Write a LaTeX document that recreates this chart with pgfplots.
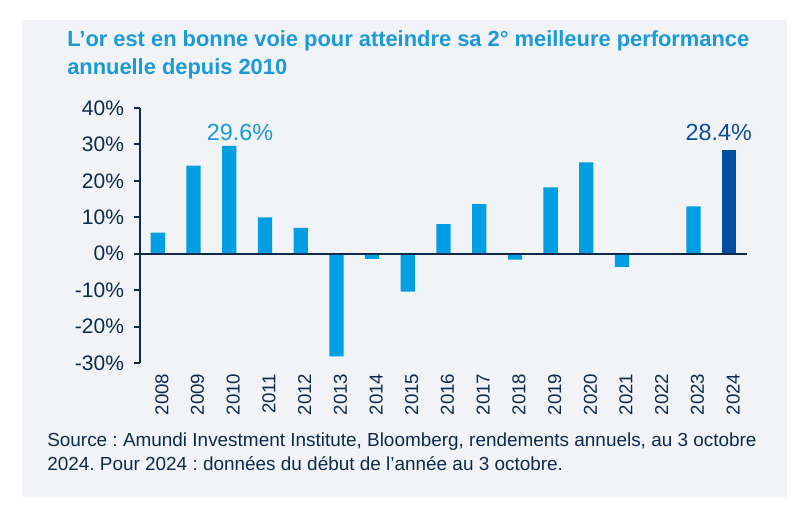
\documentclass[border=0pt]{standalone}
\usepackage{pgfplots}
\pgfplotsset{compat=1.18}
\usepackage{fontspec}
\setmainfont{Liberation Sans}
\frenchspacing
\definecolor{bg}{HTML}{F1F3F6}
\definecolor{lightbar}{HTML}{009EE2}
\definecolor{darkbar}{HTML}{004F9E}
\definecolor{titleblue}{HTML}{1A9AD8}
\definecolor{navy}{HTML}{0B2A4E}
\definecolor{lab2}{HTML}{0F4C9A}
\newcommand{\PX}[2]{({#1*0.75pt},{#2*0.75pt})}
\begin{document}
\begin{tikzpicture}
\fill[white] \PX{0}{0} rectangle \PX{800}{514};
\fill[bg] \PX{22}{17} rectangle \PX{787}{494};
\node[anchor=base west, inner sep=0, text=titleblue, font=\fontsize{16.4}{19}\selectfont\bfseries] at \PX{67}{467} {L’or est en bonne voie pour atteindre sa 2° meilleure performance};
\node[anchor=base west, inner sep=0, text=titleblue, font=\fontsize{16.4}{19}\selectfont\bfseries] at \PX{67}{439} {annuelle depuis 2010};
\begin{axis}[
  at={(105pt,113.25pt)}, anchor=south west,
  scale only axis, width=455.25pt, height=191.25pt,
  xmin=-0.5, xmax=16.5, ymin=-30, ymax=40,
  ybar, bar width=10.7pt, bar shift=0pt,
  axis y line*=left, axis x line*=bottom,
  x axis line style={draw=none},
  y axis line style={navy, line width=1.5pt, -},
  xtick={0,...,16},
  xticklabels={2008,2009,2010,2011,2012,2013,2014,2015,2016,2017,2018,2019,2020,2021,2022,2023,2024},
  xticklabel style={rotate=90, anchor=east, text=navy, font=\fontsize{14}{14}\selectfont, yshift=-3pt},
  major x tick style={draw=none},
  ytick={-30,-20,-10,0,10,20,30,40},
  yticklabels={-30\%,-20\%,-10\%,0\%,10\%,20\%,30\%,40\%},
  yticklabel style={text=navy, font=\fontsize{15.75}{16}\selectfont, xshift=-4pt},
  tick align=outside, major tick length=4.5pt,
  major y tick style={navy, line width=1.5pt},
  clip=false,
]
\addplot[fill=lightbar, draw=none] coordinates {
(0,5.8) (1,24.2) (2,29.6) (3,10.0) (4,7.1) (5,-28.2) (6,-1.4) (7,-10.4)
(8,8.1) (9,13.6) (10,-1.6) (11,18.2) (12,25.1) (13,-3.6) (14,-0.3) (15,13.0)};
\addplot[fill=darkbar, draw=none] coordinates {(16,28.4)};
\draw[navy, line width=1.5pt] (axis cs:-0.5,0) -- (axis cs:16.5,0);
\node[anchor=base, text=titleblue, font=\fontsize{17.5}{17}\selectfont, inner sep=0] at (axis cs:2.3,31.1) {29.6\%};
\node[anchor=base, text=lab2, font=\fontsize{17.5}{17}\selectfont, inner sep=0] at (axis cs:15.71,31.1) {28.4\%};
\end{axis}
\node[anchor=base west, inner sep=0, text=navy, font=\fontsize{14.2}{14}\selectfont] at \PX{47}{67} {Source : Amundi Investment Institute, Bloomberg, rendements annuels, au 3 octobre};
\node[anchor=base west, inner sep=0, text=navy, font=\fontsize{14.2}{14}\selectfont] at \PX{47}{43} {2024. Pour 2024 : données du début de l’année au 3 octobre.};
\end{tikzpicture}
\end{document}
